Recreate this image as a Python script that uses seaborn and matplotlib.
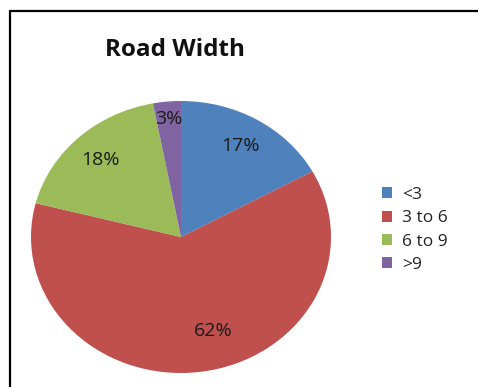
import matplotlib
matplotlib.use("Agg")
import matplotlib.pyplot as plt
from matplotlib.lines import Line2D
import numpy as np
import seaborn as sns

# Road width distribution
categories = ['<3', '3 to 6', '6 to 9', '>9']
shares = [17, 62, 18, 3]
colors = sns.color_palette(['#4F81BD', '#C0504D', '#9BBB59', '#8064A2'])

sns.set_theme(style='white')
plt.rcParams['font.family'] = ['Open Sans', 'DejaVu Sans']

W, H = 478, 387
fig = plt.figure(figsize=(W / 100, H / 100), dpi=100)
fig.patch.set_facecolor('white')

# pie area (slightly squashed ellipse, like the original)
cx, cy, rx, ry = 181, 237, 150, 136
ax = fig.add_axes([(cx - rx) / W, (H - cy - ry) / H, 2 * rx / W, 2 * ry / H])
wedges, texts, autotexts = ax.pie(
    shares, colors=colors, startangle=90, counterclock=False,
    autopct='%d%%', pctdistance=0.78,
    wedgeprops=dict(linewidth=0, edgecolor='none'),
    textprops=dict(fontsize=14, color='#1a1a1a'),
)
# nudge label radii / angles a little, like the Excel layout
label_dist = [0.78, 0.72, 0.78, 0.87]
label_shift = [0, 10, 0, 0]  # degrees
for w, t, d, s in zip(wedges, autotexts, label_dist, label_shift):
    ang = np.deg2rad((w.theta1 + w.theta2) / 2 + s)
    t.set_position((d * np.cos(ang), d * np.sin(ang)))
ax.set_aspect('auto')
ax.set_xlim(-1, 1)
ax.set_ylim(-1, 1)
ax.axis('off')

fig.text(175 / W, 1 - 50 / H, 'Road Width', ha='center', va='center',
         fontsize=17.5, fontweight='bold', color='#111111')

fig.legend(wedges, categories, loc='upper left',
           bbox_to_anchor=(382 / W, 1 - 187 / H), frameon=False,
           fontsize=12.5, handlelength=0.6, handleheight=0.6,
           handletextpad=0.55, labelspacing=0.42, borderpad=0,
           borderaxespad=0, labelcolor='#222222')

# frame lines on left and top edge
fig.add_artist(Line2D([10 / W, 10 / W], [0, 1 - 11 / H], transform=fig.transFigure,
                      color='black', lw=1.6))
fig.add_artist(Line2D([10 / W, 1], [1 - 11 / H, 1 - 11 / H], transform=fig.transFigure,
                      color='black', lw=1.6))

fig.savefig('out.png', dpi=100)
